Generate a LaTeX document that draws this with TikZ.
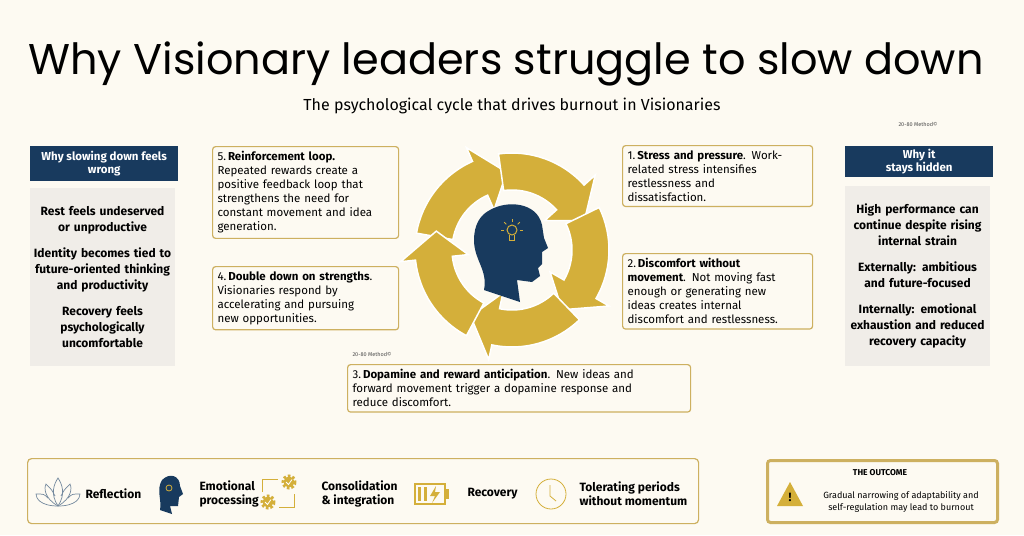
\documentclass[tikz,border=0pt]{standalone}
\usepackage{fontspec}
\setmainfont{Fira Sans}
\newfontfamily\titlefont{Poppins}
\usetikzlibrary{positioning,calc}
\definecolor{cream}{HTML}{FDFAF2}
\definecolor{navy}{HTML}{183A5E}
\definecolor{gold}{HTML}{D4AF3A}
\definecolor{goldline}{HTML}{CDB060}
\definecolor{panel}{HTML}{F0EDE8}
\newcommand{\cyclearrow}[1]{%
  \fill[gold,draw=white,line width=1.5pt] (#1:97) arc[start angle=#1,end angle=#1+56,radius=97]
    -- (#1+56:112) -- (#1+76:78) -- (#1+56:44) -- (#1+56:60)
    arc[start angle=#1+56,end angle=#1,radius=60] -- cycle;}
\begin{document}
\begin{tikzpicture}[x=1pt,y=-1pt,
  step_box/.style={draw=goldline,line width=1.2pt,rounded corners=3pt,fill=cream,
    align=left,font=\fontsize{11.5}{14}\selectfont,inner sep=5pt,anchor=north west},
  head_box/.style={fill=navy,text=white,align=center,font=\bfseries\fontsize{11.5}{13}\selectfont,
    minimum width=148pt,inner sep=3pt,anchor=north west},
  panel_box/.style={fill=panel,align=center,font=\bfseries\fontsize{12}{16}\selectfont,
    text width=138pt,anchor=north west},
  legend_text/.style={align=left,font=\bfseries\fontsize{12}{14}\selectfont,anchor=west},
  tag/.style={font=\fontsize{5.5}{6}\selectfont,text=black!70}]
\fill[cream] (0,0) rectangle (1024,535);
\useasboundingbox (0,0) rectangle (1024,535);

% title
\node[font=\titlefont\fontsize{43}{48}\selectfont] (title) at (506,64) {Why Visionary leaders struggle to slow down};
\node[font=\fontsize{16}{18}\selectfont] (subtitle) at (512,106) {The psychological cycle that drives burnout in Visionaries};
\node[tag] (tag1) at (918,124) {20-80 Method©};

% side panels
\node[head_box,minimum height=35pt] (lhead) at (30,146) {Why slowing down feels\\wrong};
\node[panel_box,minimum height=178pt] (lpanel) at (30,188) {Rest feels undeserved\\or unproductive\\[10pt]Identity becomes tied to\\future-oriented thinking\\and productivity\\[10pt]Recovery feels\\psychologically\\uncomfortable};
\node[head_box,minimum height=31pt] (rhead) at (845,146) {Why it\\stays hidden};
\node[panel_box,minimum height=180pt] (rpanel) at (845,186) {High performance can\\continue despite rising\\internal strain\\[10pt]Externally: ambitious\\and future-focused\\[10pt]Internally: emotional\\exhaustion and reduced\\recovery capacity};

% cycle steps
\node[step_box,text width=176pt] (s5) at (212,146) {5.\,\textbf{Reinforcement loop.}\\Repeated rewards create a\\positive feedback loop that\\strengthens the need for\\constant movement and idea\\generation.};
\node[step_box,text width=176pt] (s4) at (212,266) {4.\,\textbf{Double down on strengths}.\\Visionaries respond by\\accelerating and pursuing\\new opportunities.};
\node[step_box,text width=180pt] (s1) at (622,145) {1.\,\textbf{Stress and pressure}. Work-\\related stress intensifies\\restlessness and\\dissatisfaction.};
\node[step_box,text width=180pt] (s2) at (622,253) {2.\,\textbf{Discomfort without}\\\textbf{movement}. Not moving fast\\enough or generating new\\ideas creates internal\\discomfort and restlessness.};
\node[step_box,text width=333pt] (s3) at (347,364) {3.\,\textbf{Dopamine and reward anticipation}. New ideas and\\forward movement trigger a dopamine response and\\reduce discomfort.};
\node[tag] (tag2) at (372,354) {20-80 Method©};

% cycle
\begin{scope}[shift={(512,250)}]
  \foreach \a in {-170,-98,-26,46,118} {\cyclearrow{\a}}
  \fill[navy] (-22,-40) .. controls (-5,-50) and (25,-48) .. (30,-25)
    -- (32,-12) -- (36,-2) -- (30,2) -- (30,14) -- (26,18) -- (28,26) -- (20,32)
    -- (5,30) -- (8,52) -- (-28,40) .. controls (-24,20) and (-38,10) .. (-38,-10)
    .. controls (-38,-25) and (-32,-35) .. (-22,-40) -- cycle;
  \draw[gold,line width=1pt] (0,-20) circle (5);
  \draw[gold,line width=1pt] (-2.5,-15) -- (-2.5,-10) -- (2.5,-10) -- (2.5,-15);
  \foreach \r in {-90,-45,-135,0,180} {\draw[gold,line width=0.8pt] ($(0,-20)+(\r:8)$) -- ($(0,-20)+(\r:11)$);}
\end{scope}

% legend
\node[draw=goldline,line width=1.2pt,rounded corners=4pt,minimum width=671pt,minimum height=65pt,anchor=north west] (legend) at (27,458) {};
\begin{scope}[shift={(58,494)},navy!60,line width=0.7pt]
  \draw (0,12) .. controls (-8,0) and (-4,-10) .. (0,-16) .. controls (4,-10) and (8,0) .. (0,12);
  \draw (0,12) .. controls (-14,4) and (-14,-6) .. (-12,-10) .. controls (-6,-4) .. (-3,2);
  \draw (0,12) .. controls (14,4) and (14,-6) .. (12,-10) .. controls (6,-4) .. (3,2);
  \draw (0,12) .. controls (-18,12) and (-22,4) .. (-22,0) .. controls (-14,0) .. (-10,4);
  \draw (0,12) .. controls (18,12) and (22,4) .. (22,0) .. controls (14,0) .. (10,4);
\end{scope}
\node[legend_text] (l1) at (82,494) {Reflection};
\fill[navy] (162,480) .. controls (170,472) and (180,476) .. (180,486) -- (183,494) -- (179,497)
  -- (178,506) -- (170,506) -- (172,514) -- (160,510) .. controls (162,500) and (156,490) .. (162,480) -- cycle;
\draw[gold,line width=0.8pt] (169,488) circle (3);
\node[legend_text] (l2) at (196,494) {Emotional\\processing};
\draw[gold,line width=3pt,dash pattern=on 2.5pt off 2pt] (289,482) circle (6);
\fill[gold] (289,482) circle (5.5);
\draw[white,line width=0.8pt] (286,482) -- (288.5,484.5) -- (292,479.5);
\draw[gold,line width=3pt,dash pattern=on 2.5pt off 2pt] (268,502) circle (6);
\fill[gold] (268,502) circle (5.5);
\draw[white,line width=0.8pt] (265,502) -- (267.5,504.5) -- (271,499.5);
\draw[gold,line width=0.8pt] (262,492) |- (278,479);
\draw[gold,line width=0.8pt] (294,494) |- (279,507);
\node[legend_text] (l3) at (318,494) {Consolidation\\\& integration};
\draw[gold,line width=1.5pt] (415,484) rectangle (445,504);
\fill[gold] (445,489) rectangle (449,499);
\fill[gold] (418,487) rectangle (421,501);
\fill[gold] (424,487) rectangle (427,501);
\fill[gold] (436,486) -- (430,496) -- (435,496) -- (432,503) -- (440,492) -- (435,492) -- cycle;
\node[legend_text] (l4) at (464,494) {Recovery};
\draw[gold,line width=0.8pt] (551,494) circle (15);
\draw[gold,line width=0.8pt] (550,485) -- (550,496) -- (556,501);
\node[legend_text] (l5) at (576,494) {Tolerating periods\\without momentum};

% outcome
\node[draw=goldline,line width=3pt,rounded corners=3pt,minimum width=230pt,minimum height=62pt,anchor=north west] (outcome) at (766,459) {};
\node[font=\bfseries\fontsize{8.5}{10}\selectfont] (otitle) at (880,473) {THE OUTCOME};
\node[align=center,font=\fontsize{9}{12}\selectfont] (otext) at (901,502) {Gradual narrowing of adaptability and\\self-regulation may lead to burnout};
\fill[gold] (790,482) -- (777,506) -- (803,506) -- cycle;
\node[font=\bfseries\fontsize{12}{12}\selectfont] (excl) at (790,497) {!};
\end{tikzpicture}
\end{document}
